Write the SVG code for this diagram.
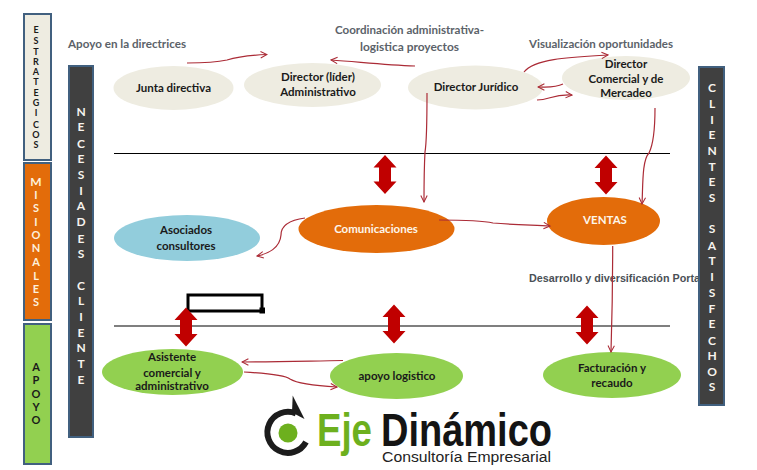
<svg xmlns="http://www.w3.org/2000/svg" width="757" height="470" viewBox="0 0 757 470">
<style>
text{font-family:Lato,"Open Sans","Liberation Sans",sans-serif;font-weight:700}
.bar{stroke:#41607f;stroke-width:2}
.n{font-size:11.5px;fill:#1a1a1a;text-anchor:middle}
.w{font-size:11.5px;fill:#fdf6ea;text-anchor:middle}
.g{font-size:12px;fill:#5b6269}
.lt{text-anchor:middle;font-size:9px;fill:#1a1a1a}
.lw{text-anchor:middle;font-size:12px;fill:#f6f3ee}
.lo{text-anchor:middle;font-size:11px;fill:#fdf0dc}
.c{fill:none;stroke:#ab2b36;stroke-width:1.2;marker-end:url(#a)}
.d{fill:#c00000}
.h{stroke:#000;stroke-width:1.2}
</style>
<defs>
<marker id="a" viewBox="0 0 10 10" refX="9" refY="5" markerWidth="8" markerHeight="8" markerUnits="userSpaceOnUse" orient="auto"><path d="M1 1L9 5L1 9" fill="none" stroke="#ab2b36" stroke-width="1.3"/></marker>
<path id="dbl" d="M0 -19.500L11.500 -7L6 -7L6 7L11.500 7L0 19.500L-11.500 7L-6 7L-6 -7L-11.500 -7Z"/>
</defs>
<rect width="757" height="470" fill="#fff"/>

<g id="labels">
<text class="g" x="68" y="48" textLength="118" lengthAdjust="spacingAndGlyphs">Apoyo en la directrices</text>
<text class="g" x="335" y="34" textLength="149" lengthAdjust="spacingAndGlyphs">Coordinación administrativa-</text>
<text class="g" x="360" y="51" textLength="99" lengthAdjust="spacingAndGlyphs">logistica  proyectos</text>
<text class="g" x="529" y="48" textLength="144" lengthAdjust="spacingAndGlyphs">Visualización oportunidades</text>
<text x="529" y="282" textLength="171" lengthAdjust="spacingAndGlyphs" style="font-family:'Liberation Sans',sans-serif;font-size:11px;fill:#4a5056">Desarrollo y diversificación Porta</text>
</g>

<g id="rules">
<line class="h" x1="114" y1="153.500" x2="670" y2="153.500"/>
<line class="h" x1="114" y1="326" x2="670" y2="326"/>
<path d="M188 311V295H262V311H189M261 309h2.500v3h-2.500z" fill="none" stroke="#000" stroke-width="3"/>
</g>

<g id="band-estrategicos">
<rect class="bar" x="24" y="14" width="27" height="146" fill="#eeece1"/>
<g class="lt">
<text x="36" y="33">E</text><text x="36" y="44">S</text><text x="36" y="54.500">T</text><text x="36" y="64.500">R</text><text x="36" y="75">A</text><text x="36" y="85">T</text><text x="36" y="95.500">E</text><text x="36" y="106">G</text><text x="36" y="116">I</text><text x="36" y="127.500">C</text><text x="36" y="138">O</text><text x="36" y="148">S</text>
</g>
</g>
<g id="band-misionales">
<rect class="bar" x="24" y="163" width="27" height="157" fill="#e36c0a"/>
<g class="lo">
<text x="36" y="186" font-size="12">M</text><text x="36" y="199">I</text><text x="36" y="212">S</text><text x="36" y="226">I</text><text x="36" y="239">O</text><text x="36" y="252">N</text><text x="36" y="266">A</text><text x="36" y="280">L</text><text x="36" y="293">E</text><text x="36" y="306">S</text>
</g>
</g>
<g id="band-apoyo">
<rect class="bar" x="24" y="324" width="27" height="140" fill="#92d050"/>
<g class="lo" style="fill:#1a1a1a">
<text x="36" y="371">A</text><text x="36" y="384">P</text><text x="36" y="397.500">O</text><text x="36" y="410.500">Y</text><text x="36" y="423.500">O</text>
</g>
</g>
<g id="band-necesidades">
<rect class="bar" x="69" y="66" width="24" height="371" fill="#404040"/>
<g class="lw">
<text x="81" y="115.500">N</text><text x="81" y="131">E</text><text x="81" y="147.500">C</text><text x="81" y="162.500">E</text><text x="81" y="178.500">S</text><text x="81" y="194.500">I</text><text x="81" y="210">A</text><text x="81" y="225.500">D</text><text x="81" y="242.500">E</text><text x="81" y="257.500">S</text><text x="81" y="289.500">C</text><text x="81" y="304.500">L</text><text x="81" y="320.500">I</text><text x="81" y="336.500">E</text><text x="81" y="351.500">N</text><text x="81" y="367.500">T</text><text x="81" y="383.500">E</text>
</g>
</g>
<g id="band-clientes">
<rect class="bar" x="699" y="67" width="25" height="338" fill="#404040"/>
<g class="lw">
<text x="712" y="91.500">C</text><text x="712" y="107.500">L</text><text x="712" y="123.500">I</text><text x="712" y="139">E</text><text x="712" y="154.500">N</text><text x="712" y="170.500">T</text><text x="712" y="185.500">E</text><text x="712" y="201.500">S</text><text x="712" y="232.500">S</text><text x="712" y="249.500">A</text><text x="712" y="264.500">T</text><text x="712" y="280.500">I</text><text x="712" y="296.500">S</text><text x="712" y="312.500">F</text><text x="712" y="327.500">E</text><text x="712" y="344.500">C</text><text x="712" y="359.500">H</text><text x="712" y="375.500">O</text><text x="712" y="390.500">S</text>
</g>
</g>

<g id="n-junta"><ellipse cx="173.500" cy="88" rx="60" ry="22" fill="#eeece1"/><text class="n" x="173.500" y="92">Junta directiva</text></g>
<g id="n-lider"><ellipse cx="312.500" cy="85" rx="68.500" ry="22" fill="#eeece1"/><text class="n" x="318" y="81">Director (líder)</text><text class="n" x="318" y="96">Administrativo</text></g>
<g id="n-juridico"><ellipse cx="475.500" cy="87.500" rx="67.500" ry="22" fill="#eeece1"/><text class="n" x="476" y="91">Director Jurídico</text></g>
<g id="n-comercial"><ellipse cx="626" cy="78" rx="64" ry="22" fill="#eeece1"/><text class="n" x="626" y="68">Director</text><text class="n" x="626" y="83">Comercial y de</text><text class="n" x="626" y="97">Mercadeo</text></g>
<g id="n-asociados"><ellipse cx="187" cy="238" rx="73" ry="23" fill="#92cddc"/><text class="n" x="186" y="234">Asociados</text><text class="n" x="186" y="250">consultores</text></g>
<g id="n-comunicaciones"><ellipse cx="376.500" cy="229" rx="78" ry="24" fill="#e36c0a"/><text class="w" x="376" y="233">Comunicaciones</text></g>
<g id="n-ventas"><ellipse cx="603.500" cy="221" rx="56.500" ry="24" fill="#e36c0a"/><text class="w" x="605" y="224">VENTAS</text></g>
<g id="n-asistente"><ellipse cx="172.500" cy="372" rx="70.500" ry="23" fill="#92d050"/><text class="n" x="172" y="361">Asistente</text><text class="n" x="172" y="377">comercial y</text><text class="n" x="172" y="390">administrativo</text></g>
<g id="n-apoyo"><ellipse cx="396.500" cy="376" rx="66.500" ry="23" fill="#92d050"/><text class="n" x="397" y="380">apoyo logistico</text></g>
<g id="n-facturacion"><ellipse cx="612" cy="375" rx="69" ry="23" fill="#92d050"/><text class="n" x="612" y="372">Facturación y</text><text class="n" x="612" y="387">recaudo</text></g>

<g id="double-arrows">
<use class="d" href="#dbl" x="385" y="174.500"/>
<use class="d" href="#dbl" x="606" y="175"/>
<use class="d" href="#dbl" x="186" y="327"/>
<use class="d" href="#dbl" x="394" y="324"/>
<use class="d" href="#dbl" x="587" y="325"/>
</g>

<g id="connectors">
<path class="c" d="M187 63C205 63 218 62 227 60C240 56 255 55 267 54.500"/>
<path class="c" d="M415 66C385 65 360 62 331 60"/>
<path class="c" d="M524 72C535 58 575 57 608 55"/>
<path class="c" d="M563 84C555 88 548 87 538 87"/>
<path class="c" d="M537 100C550 100 552 94 572 95"/>
<path class="c" d="M427 93C427 120 427 140 425 152C424 170 424 185 424 202"/>
<path class="c" d="M655 108C655 130 653 145 649 153C642 160 643 185 642 204"/>
<path class="c" d="M439 220C460 220 480 220 493 223C515 225 535 225 550 226"/>
<path class="c" d="M305 218C290 220 281 225 281 235C280 248 268 254 257 256"/>
<path class="c" d="M612.700 246C612.700 290 612 320 611 352"/>
<path class="c" d="M343 360.500C310 361 275 362 242 362"/>
<path class="c" d="M244 372C262 373 285 375 290 379C298 384 320 386 337 387"/>
</g>

<g id="logo">
<path d="M296 413.500A20.500 20.500 0 1 0 306 442" fill="none" stroke="#1c1c1c" stroke-width="6"/>
<path d="M292.700 395.500L304.500 419L292 412.500Z" fill="#1c1c1c"/>
<circle cx="288" cy="433" r="9.500" fill="#6db01e"/>
<text x="317" y="446" textLength="55" lengthAdjust="spacingAndGlyphs" style="font-family:'Liberation Sans',sans-serif;font-size:46px;fill:#6db01e">Eje</text>
<text x="381" y="446" textLength="171" lengthAdjust="spacingAndGlyphs" style="font-family:'Liberation Sans',sans-serif;font-size:46px;fill:#141414">Dinámico</text>
<text x="382" y="462" textLength="169" lengthAdjust="spacingAndGlyphs" style="font-family:'Liberation Sans',sans-serif;font-weight:400;font-size:15.500px;fill:#222">Consultoría Empresarial</text>
</g>
</svg>
